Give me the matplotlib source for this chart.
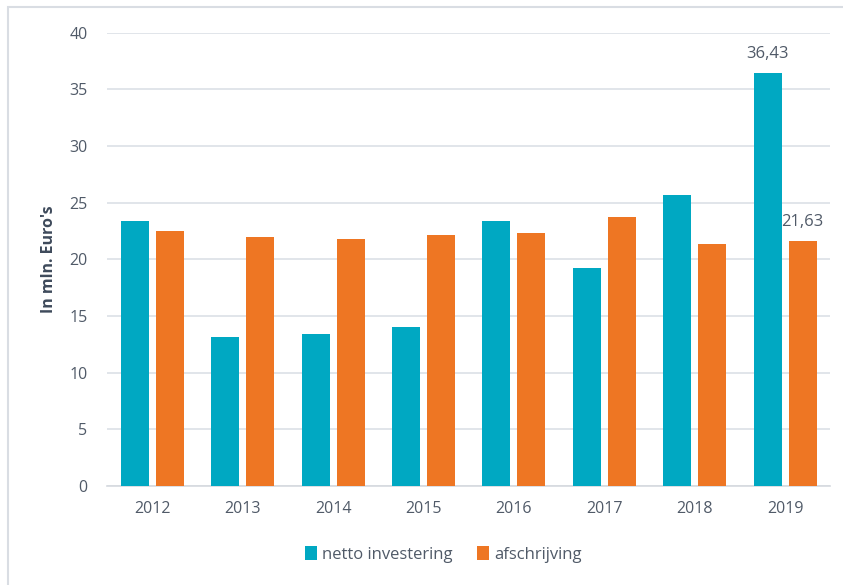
import matplotlib.pyplot as plt
import numpy as np
from matplotlib.patches import Rectangle

# Data
jaren = ['2012', '2013', '2014', '2015', '2016', '2017', '2018', '2019']
netto_investering = [23.4, 13.15, 13.4, 14.0, 23.4, 19.25, 25.7, 36.43]
afschrijving = [22.5, 21.95, 21.8, 22.2, 22.3, 23.75, 21.4, 21.63]

kleur_teal = '#00A8C2'
kleur_oranje = '#EE7623'
tekst_kleur = '#505A68'

plt.rcParams['font.family'] = ['Open Sans', 'DejaVu Sans']

fig = plt.figure(figsize=(8.43, 5.85), dpi=100)
ax = fig.add_axes([0.127, 0.169, 0.858, 0.775])

x = np.arange(len(jaren))
breedte = 0.31
ax.bar(x - 0.193, netto_investering, breedte, color=kleur_teal, label='netto investering', zorder=3)
ax.bar(x + 0.193, afschrijving, breedte, color=kleur_oranje, label='afschrijving', zorder=3)

# Alleen labels voor 2019
ax.text(x[-1] - 0.193, netto_investering[-1] + 1.0, f"{netto_investering[-1]:.2f}".replace('.', ','),
        ha='center', va='bottom', fontsize=12, color=tekst_kleur)
ax.text(x[-1] + 0.193, afschrijving[-1] + 1.0, f"{afschrijving[-1]:.2f}".replace('.', ','),
        ha='center', va='bottom', fontsize=12, color=tekst_kleur)

ax.set_xlim(-0.5, len(jaren) - 0.5)
ax.set_ylim(0, 40)
ax.set_yticks(range(0, 41, 5))
ax.set_xticks(x)
ax.set_xticklabels(jaren)
ax.tick_params(axis='both', length=0, labelsize=11.5, colors=tekst_kleur)
ax.tick_params(axis='x', pad=11)
ax.tick_params(axis='y', pad=14)

ax.grid(axis='y', color='#DCE0E6', linewidth=1.2, zorder=0)
for s in ['top', 'right', 'left']:
    ax.spines[s].set_visible(False)
ax.spines['bottom'].set_color('#D5D9DF')
ax.spines['bottom'].set_linewidth(1.2)

ax.set_ylabel("In mln. Euro's", fontsize=11.5, fontweight='bold', color='#3E4A5B', labelpad=9)

ax.legend(loc='upper center', bbox_to_anchor=(0.465, -0.1), ncol=2, frameon=False,
          fontsize=12, labelcolor=tekst_kleur, handlelength=0.7, handleheight=0.9,
          handletextpad=0.3, columnspacing=1.5)

# Kader rond de grafiek
fig.patches.append(Rectangle((0.009, -0.02), 1.1, 1.008, transform=fig.transFigure,
                             fill=False, edgecolor='#D9DDE3', linewidth=1.5))

plt.savefig('out.png', dpi=100, facecolor='white')
plt.close()
